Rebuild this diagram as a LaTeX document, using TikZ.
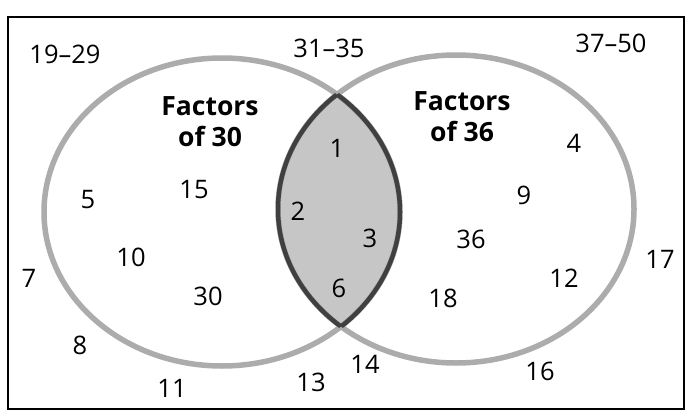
\documentclass[tikz,border=0pt]{standalone}
\usepackage{fontspec}
\setmainfont{Open Sans}
\begin{document}
\begin{tikzpicture}[x=1pt, y=-1pt,
		num/.style={inner sep=0pt, font=\fontsize{25.5}{30}\selectfont},
		head/.style={inner sep=0pt, align=center, font=\fontsize{26.5}{31}\selectfont\bfseries},
		ring/.style={draw=gray!65, line width=5.5pt},
		lensedge/.style={draw=black!75, line width=4.5pt}]
	
	\def\rx{178}
	\def\ry{154}
	\def\xa{222}
	\def\ya{212}
	\def\xb{456}
	\def\yb{209}
	
	\useasboundingbox (0,0) rectangle (687,414);
	\draw[line width=1.6pt] (8,17) rectangle (684,409);
	
	\begin{scope}
		\clip (\xa,\ya) ellipse [x radius=\rx, y radius=\ry];
		\fill[gray!45] (\xb,\yb) ellipse [x radius=\rx, y radius=\ry];
	\end{scope}
	
	\draw[ring] (\xa,\ya) ellipse [x radius=\rx, y radius=\ry];
	\draw[ring] (\xb,\yb) ellipse [x radius=\rx, y radius=\ry];
	
	\begin{scope}
		\clip (\xa,\ya) ellipse [x radius=\rx, y radius=\ry];
		\draw[lensedge] (\xb,\yb) ellipse [x radius=\rx, y radius=\ry];
	\end{scope}
	\begin{scope}
		\clip (\xb,\yb) ellipse [x radius=\rx, y radius=\ry];
		\draw[lensedge] (\xa,\ya) ellipse [x radius=\rx, y radius=\ry];
	\end{scope}
	
	\node[head] (f30) at (210,122) {Factors\\of 30};
	\node[head] (f36) at (462,117) {Factors\\of 36};
	
	\node[num] (span19) at (65,54) {19--29};
	\node[num] (span31) at (329,48) {31--35};
	\node[num] (span37) at (611,43) {37--50};
	
	\foreach \v/\px/\py in {1/337/148, 2/298/211, 3/370/238, 6/339/288,
		15/194/190, 5/88/200, 10/131/257, 30/208/296,
		7/29/278, 8/80/345, 11/172/388, 13/311/382, 14/365/364, 16/540/371, 17/660/259,
		12/564/278, 18/443/298, 36/471/239, 9/524/195, 4/574/143}{
		\node[num] (n\v) at (\px,\py) {\v};
	}
	
\end{tikzpicture}
\end{document}
